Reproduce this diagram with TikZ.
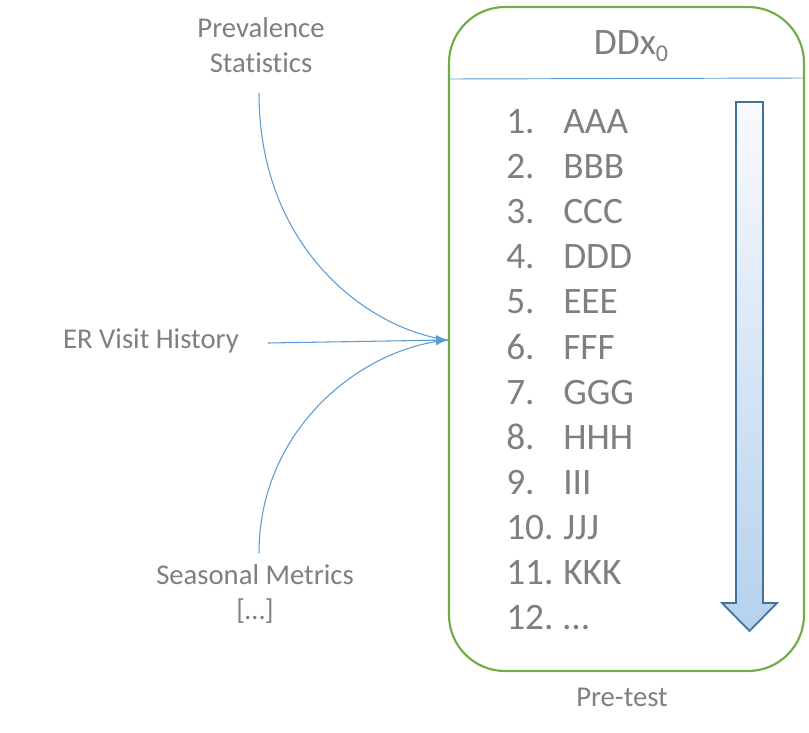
\documentclass[tikz,border=0pt]{standalone}
\usepackage{fontspec}
\setmainfont{Carlito}[Ligatures=NoCommon]
\usetikzlibrary{arrows.meta}
\begin{document}
\begin{tikzpicture}[x=0.75pt,y=-0.75pt,
  lbl/.style={text=txtgray,font=\fontsize{21.5}{26.5}\selectfont,align=center,inner sep=0pt},
  itm/.style={text=txtgray,font=\fontsize{28}{32}\selectfont,anchor=west,inner sep=0pt},
  conn/.style={draw=connblue,line width=0.8pt},
]
\definecolor{txtgray}{HTML}{7F7F7F}
\definecolor{connblue}{HTML}{5B9BD5}
\definecolor{boxgreen}{HTML}{70AD47}
\definecolor{arrowedge}{HTML}{41719C}
\useasboundingbox (0,0) rectangle (809,732);
% main box
\draw[boxgreen,line width=1.6pt,rounded corners=42pt] (449,7) rectangle (804,671);
\coordinate (sepL) at (450,79);
\coordinate (sepR) at (803,78);
\draw[connblue,line width=0.7pt] (sepL) -- (sepR);
\node[text=txtgray,font=\fontsize{28}{32}\selectfont,inner sep=0pt] (title) at (631,46) {DDx\raisebox{-0.35ex}{\fontsize{18}{20}\selectfont 0}};
% items
\foreach \n/\t [count=\i from 0] in {1./AAA,2./BBB,3./CCC,4./DDD,5./EEE,6./FFF,7./GGG,8./HHH,9./III,10./JJJ,11./KKK,12./\dots} {
  \node[itm] (n\i) at (506,{125+45.1*\i}) {\strut\n};
  \node[itm] (t\i) at (563,{125+45.1*\i}) {\strut\t};
}
% down arrow
\shade[top color=blue!2!white, bottom color={rgb,255:red,180;green,209;blue,236}, draw=arrowedge, line width=1.3pt, line join=miter]
  (736,102) -- (763,102) -- (763,603) -- (777,603) -- (749.5,631) -- (722,603) -- (736,603) -- cycle;
% labels
\node[lbl] (prev) at (261,45) {Prevalence\\Statistics};
\node[lbl] (er) at (151,341) {ER Visit History};
\node[lbl] (seas) at (255,594) {Seasonal Metrics\\{[\dots]}};
\coordinate (tip) at (448,340);
\coordinate (p0) at (259,93);
\coordinate (e0) at (268,343);
\coordinate (s0) at (259,553);
\draw[conn] (p0) .. controls (259,250) and (370,330) .. (tip);
\draw[conn] (s0) .. controls (259,430) and (360,348) .. (tip);
\draw[conn,-{Latex[length=9pt,width=8pt]}] (e0) -- (tip);
\node[text=txtgray,font=\fontsize{21.5}{26}\selectfont,inner sep=0pt] (pre) at (622,697) {Pre-test};
\end{tikzpicture}
\end{document}
